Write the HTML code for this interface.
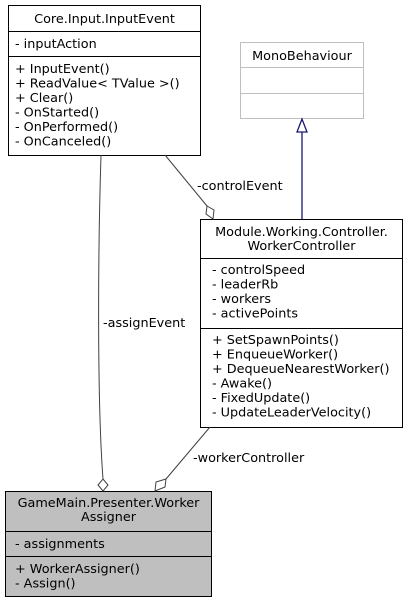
<!DOCTYPE html>
<html><head><meta charset="utf-8"><style>
html,body{margin:0;padding:0;background:#fff;}
svg{display:block;}
text{font-family:"DejaVu Sans","Liberation Sans",sans-serif;font-size:12.8px;fill:#000;}
</style></head><body>
<svg width="408" height="603" viewBox="0 0 408 603" xmlns="http://www.w3.org/2000/svg">
<!-- InputEvent -->
<rect x="8.5" y="5.5" width="192" height="150" fill="#fff" stroke="#000"/>
<line x1="8.5" y1="31.5" x2="200.5" y2="31.5" stroke="#000"/>
<line x1="8.5" y1="56.5" x2="200.5" y2="56.5" stroke="#000"/>
<text x="104.5" y="23" text-anchor="middle">Core.Input.InputEvent</text>
<text x="15" y="48">- inputAction</text>
<text x="15" y="73">+ InputEvent()</text>
<text x="15" y="87.5">+ ReadValue&lt; TValue &gt;()</text>
<text x="15" y="102">+ Clear()</text>
<text x="15" y="116.5">- OnStarted()</text>
<text x="15" y="131">- OnPerformed()</text>
<text x="15" y="145.5">- OnCanceled()</text>

<!-- MonoBehaviour -->
<rect x="240.5" y="42.5" width="123" height="76" fill="#fff" stroke="#bfbfbf"/>
<line x1="240.5" y1="67.5" x2="363.5" y2="67.5" stroke="#bfbfbf"/>
<line x1="240.5" y1="93.5" x2="363.5" y2="93.5" stroke="#bfbfbf"/>
<text x="302" y="60" text-anchor="middle">MonoBehaviour</text>

<!-- inheritance -->
<line x1="302" y1="132" x2="302" y2="219" stroke="#191970" stroke-width="1.3"/>
<polygon points="302,119 297,132 307,132" fill="#fff" stroke="#191970" stroke-width="1.3"/>

<!-- WorkerController -->
<rect x="200.5" y="219.5" width="202" height="208" fill="#fff" stroke="#000"/>
<line x1="200.5" y1="258.5" x2="402.5" y2="258.5" stroke="#000"/>
<line x1="200.5" y1="328.5" x2="402.5" y2="328.5" stroke="#000"/>
<text x="301.5" y="236" text-anchor="middle">Module.Working.Controller.</text>
<text x="301.5" y="250" text-anchor="middle">WorkerController</text>
<text x="212" y="274">- controlSpeed</text>
<text x="212" y="288.5">- leaderRb</text>
<text x="212" y="303">- workers</text>
<text x="212" y="317.5">- activePoints</text>
<text x="212" y="344">+ SetSpawnPoints()</text>
<text x="212" y="358.5">+ EnqueueWorker()</text>
<text x="212" y="373">+ DequeueNearestWorker()</text>
<text x="212" y="387.5">- Awake()</text>
<text x="212" y="402">- FixedUpdate()</text>
<text x="212" y="416.5">- UpdateLeaderVelocity()</text>

<!-- GameMain -->
<rect x="5.5" y="491.5" width="206" height="105" fill="#bfbfbf" stroke="#000"/>
<line x1="5.5" y1="531.5" x2="211.5" y2="531.5" stroke="#000"/>
<line x1="5.5" y1="556.5" x2="211.5" y2="556.5" stroke="#000"/>
<text x="108.5" y="507" text-anchor="middle">GameMain.Presenter.Worker</text>
<text x="108.5" y="521" text-anchor="middle">Assigner</text>
<text x="15" y="548">- assignments</text>
<text x="15" y="573">+ WorkerAssigner()</text>
<text x="15" y="587.5">- Assign()</text>

<!-- assignEvent -->
<path d="M101,155 C98,250 97,400 103,479" fill="none" stroke="#404040"/>
<polygon points="103,491 98,485 103,479 108,485" fill="#fff" stroke="#404040"/>
<text x="103" y="327">-assignEvent</text>

<!-- controlEvent -->
<line x1="165" y1="155" x2="207" y2="206" stroke="#404040"/>
<polygon points="213,219 206,214 207,206 214,210" fill="#fff" stroke="#404040"/>
<text x="197" y="190">-controlEvent</text>

<!-- workerController -->
<line x1="210" y1="427" x2="166" y2="479" stroke="#404040"/>
<polygon points="155,491 156,482 166,479 165,487" fill="#fff" stroke="#404040"/>
<text x="193" y="462">-workerController</text>
</svg>
</body></html>
